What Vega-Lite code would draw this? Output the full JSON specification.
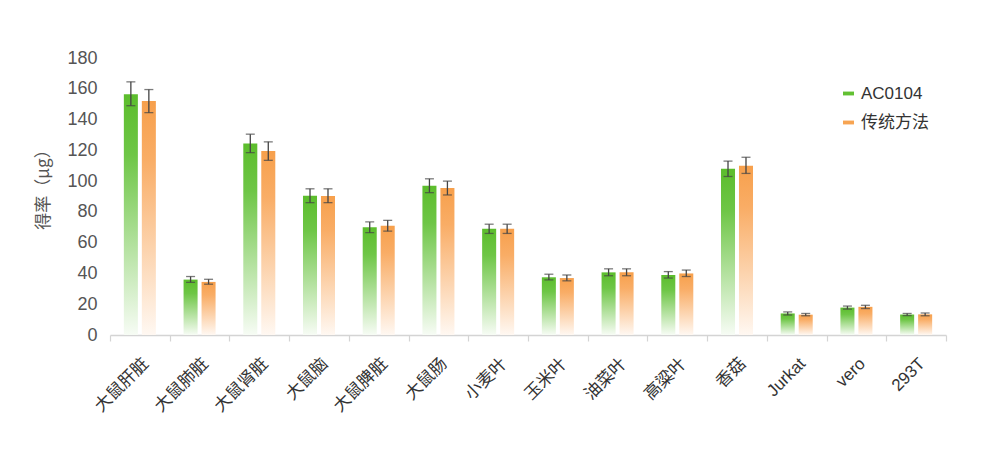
{
  "$schema": "https://vega.github.io/schema/vega-lite/v6.json",
  "width": 836,
  "height": 277,
  "autosize": {"type": "none"},
  "padding": {"left": 110, "top": 58, "right": 35, "bottom": 116},
  "background": "#ffffff",
  "config": {
    "view": {"stroke": null},
    "font": "Liberation Sans, Noto Sans CJK SC",
    "axis": {"labelFont": "Liberation Sans, Noto Sans CJK SC", "titleFont": "Noto Sans CJK SC"},
    "axisY": {
      "labelOverlap": false,
      "values": [0, 20, 40, 60, 80, 100, 120, 140, 160, 180],
      "labelFontSize": 18,
      "labelColor": "#555555",
      "labelPadding": 13,
      "domain": false,
      "ticks": false,
      "grid": false,
      "titleFontSize": 17,
      "titleFontWeight": "normal",
      "titleColor": "#555555",
      "titlePadding": 14,
      "titleY": 127
    },
    "legend": {"labelFont": "Liberation Sans, Noto Sans CJK SC"}
  },
  "data": {
    "values": [
      {"category": "大鼠肝脏", "series": "AC0104", "value": 156.5, "lo": 149, "hi": 164.5},
      {"category": "大鼠肝脏", "series": "传统方法", "value": 152, "lo": 144.5, "hi": 159.5},
      {"category": "大鼠肺脏", "series": "AC0104", "value": 36, "lo": 34.2, "hi": 38},
      {"category": "大鼠肺脏", "series": "传统方法", "value": 34.5, "lo": 33, "hi": 36.2},
      {"category": "大鼠肾脏", "series": "AC0104", "value": 124.5, "lo": 118.5, "hi": 130.5},
      {"category": "大鼠肾脏", "series": "传统方法", "value": 119.5, "lo": 113.5, "hi": 125.5},
      {"category": "大鼠脑", "series": "AC0104", "value": 90.5, "lo": 86, "hi": 95},
      {"category": "大鼠脑", "series": "传统方法", "value": 90.3, "lo": 86, "hi": 95},
      {"category": "大鼠脾脏", "series": "AC0104", "value": 70, "lo": 66.5, "hi": 73.5},
      {"category": "大鼠脾脏", "series": "传统方法", "value": 71, "lo": 67.5, "hi": 74.5},
      {"category": "大鼠肠", "series": "AC0104", "value": 97, "lo": 92.5, "hi": 101.5},
      {"category": "大鼠肠", "series": "传统方法", "value": 95.5, "lo": 91, "hi": 100},
      {"category": "小麦叶", "series": "AC0104", "value": 69, "lo": 66, "hi": 72},
      {"category": "小麦叶", "series": "传统方法", "value": 69, "lo": 66, "hi": 72},
      {"category": "玉米叶", "series": "AC0104", "value": 37.5, "lo": 35.8, "hi": 39.5},
      {"category": "玉米叶", "series": "传统方法", "value": 37, "lo": 35.2, "hi": 39},
      {"category": "油菜叶", "series": "AC0104", "value": 40.7, "lo": 38.5, "hi": 43},
      {"category": "油菜叶", "series": "传统方法", "value": 40.7, "lo": 38.5, "hi": 43},
      {"category": "高粱叶", "series": "AC0104", "value": 39, "lo": 37, "hi": 41.2},
      {"category": "高粱叶", "series": "传统方法", "value": 40, "lo": 38, "hi": 42.2},
      {"category": "香菇", "series": "AC0104", "value": 108, "lo": 103, "hi": 113},
      {"category": "香菇", "series": "传统方法", "value": 110, "lo": 105, "hi": 115.5},
      {"category": "Jurkat", "series": "AC0104", "value": 14, "lo": 13, "hi": 15},
      {"category": "Jurkat", "series": "传统方法", "value": 13.2, "lo": 12.5, "hi": 14},
      {"category": "vero", "series": "AC0104", "value": 17.8, "lo": 16.8, "hi": 18.8},
      {"category": "vero", "series": "传统方法", "value": 18.3, "lo": 17.2, "hi": 19.3},
      {"category": "293T", "series": "AC0104", "value": 13.3, "lo": 12.6, "hi": 14},
      {"category": "293T", "series": "传统方法", "value": 13.4, "lo": 12.5, "hi": 14.3}
    ]
  },
  "encoding": {
    "x": {
      "field": "category",
      "type": "nominal",
      "sort": null,
      "scale": {"paddingInner": 0, "paddingOuter": 0},
      "axis": {
        "title": null,
        "tickBand": "extent",
        "labelAngle": -45,
        "labelFontSize": 17,
        "labelColor": "#333333",
        "labelPadding": 14,
        "domainColor": "#d4d4d4",
        "domainWidth": 1.5,
        "tickColor": "#d4d4d4",
        "tickSize": 6,
        "tickWidth": 1.2
      }
    },
    "xOffset": {
      "field": "series",
      "type": "nominal",
      "scale": {"domain": ["AC0104", "传统方法"], "paddingInner": 0.22, "paddingOuter": 0.77}
    },
    "y": {
      "field": "value",
      "type": "quantitative",
      "scale": {"domain": [0, 180]},
      "axis": {"title": "得率（μg）"}
    }
  },
  "layer": [
    {
      "mark": {"type": "bar", "opacity": 0},
      "encoding": {
        "color": {
          "field": "series",
          "type": "nominal",
          "scale": {"domain": ["AC0104", "传统方法"], "range": ["#62c032", "#f7a452"]},
          "legend": {
            "title": null,
            "orient": "none",
            "legendX": 730,
            "legendY": 27,
            "symbolType": "M-1,-0.35H1V0.35H-1Z",
            "symbolSize": 121,
            "symbolOpacity": 1,
            "symbolStrokeWidth": 0,
            "labelFontSize": 17,
            "labelColor": "#333333",
            "labelOffset": 4,
            "rowPadding": 11
          }
        }
      }
    },
    {
      "mark": {"type": "bar"},
      "encoding": {
        "fill": {
          "condition": {
            "test": "datum.series === 'AC0104'",
            "value": {
              "gradient": "linear", "x1": 0, "y1": 0, "x2": 0, "y2": 1,
              "stops": [
                {"offset": 0, "color": "#5cbd2c"},
                {"offset": 0.25, "color": "#6ec646"},
                {"offset": 1, "color": "#f7fcf5"}
              ]
            }
          },
          "value": {
            "gradient": "linear", "x1": 0, "y1": 0, "x2": 0, "y2": 1,
            "stops": [
              {"offset": 0, "color": "#f7a04c"},
              {"offset": 0.25, "color": "#f9ad66"},
              {"offset": 1, "color": "#fff8f2"}
            ]
          }
        }
      }
    },
    {
      "mark": {"type": "rule", "color": "#444444", "strokeWidth": 1.3},
      "encoding": {
        "y": {"field": "lo", "type": "quantitative", "title": "得率（μg）"},
        "y2": {"field": "hi"}
      }
    },
    {
      "mark": {"type": "tick", "color": "#444444", "thickness": 1.3, "size": 9, "orient": "horizontal"},
      "encoding": {
        "y": {"field": "lo", "type": "quantitative", "title": "得率（μg）"}
      }
    },
    {
      "mark": {"type": "tick", "color": "#444444", "thickness": 1.3, "size": 9, "orient": "horizontal"},
      "encoding": {
        "y": {"field": "hi", "type": "quantitative", "title": "得率（μg）"}
      }
    }
  ]
}
